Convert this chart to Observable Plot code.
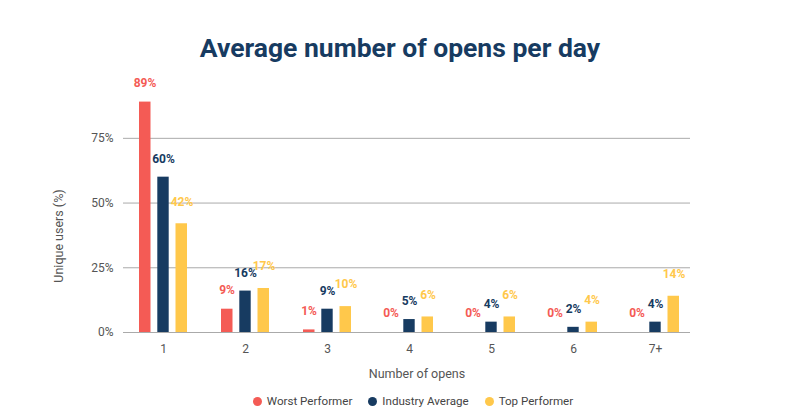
<!DOCTYPE html>
<html><head><meta charset="utf-8">
<script src="https://cdn.jsdelivr.net/npm/d3@7"></script>
<script src="https://cdn.jsdelivr.net/npm/@observablehq/plot@0.6"></script>
<style>
body{margin:0;background:#fff;font-family:Roboto,sans-serif;}
#wrap{width:800px;height:418px;overflow:hidden;}
#title{height:35px;padding-top:35px;line-height:26px;text-align:center;font-size:26.5px;font-weight:700;color:#173b61;}
#chart{height:318px;}
#legend{height:26px;display:flex;justify-content:center;align-items:center;font-size:11.6px;color:#444;line-height:22px;padding-left:26px;}
.item{display:flex;align-items:center;margin:0 8px;}
.dot{width:9px;height:9px;border-radius:50%;margin-right:5px;}
</style></head>
<body><div id="wrap">
<div id="title">Average number of opens per day</div>
<div id="chart"></div>
<div id="legend"></div>
</div>
<script>
const categories = ["1","2","3","4","5","6","7+"];
const worstPerformer = [89, 9, 1, 0, 0, 0, 0];
const industryAverage = [60, 16, 9, 5, 4, 2, 4];
const topPerformer = [42, 17, 10, 6, 6, 4, 14];
const yTicks = [0, 25, 50, 75];
const seriesNames = ["Worst Performer", "Industry Average", "Top Performer"];
const seriesColors = ["#f45b55", "#173b61", "#ffc84b"];

const seriesValues = [worstPerformer, industryAverage, topPerformer];
const rows = seriesValues.map(vals => categories.map((c, i) => ({cat: c, value: vals[i]})));
const insets = [[17, 53.5], [35.3, 35.3], [53.5, 17]];
const dxs = [-18.5, 0, 18.5];
const dys = [-19, -18, -22];

const plot = Plot.plot({
  width: 800,
  height: 318,
  marginLeft: 121,
  marginRight: 104,
  marginTop: 29,
  marginBottom: 56,
  style: {fontFamily: "Roboto, sans-serif", fontSize: "12px", color: "#555", background: "#fff"},
  x: {domain: categories, padding: 0, tickSize: 0, tickPadding: 12, label: null},
  y: {domain: [0, 90], ticks: yTicks, tickFormat: d => d + "%", tickSize: 0, tickPadding: 8, label: null},
  marks: [
    Plot.ruleY(yTicks, {stroke: "#aaaaaa", strokeWidth: 1, insetLeft: 2, insetRight: 6}),
    ...rows.map((r, k) => Plot.barY(r, {x: "cat", y: "value", fill: seriesColors[k], insetLeft: insets[k][0], insetRight: insets[k][1]})),
    ...rows.map((r, k) => Plot.text(r, {x: "cat", y: "value", text: d => d.value + "%", fill: seriesColors[k], dx: dxs[k], dy: dys[k], fontWeight: 700, fontSize: 12}))
  ]
});
const svg = d3.select(plot);
svg.append("text").attr("x", 417).attr("y", 307.5).attr("text-anchor", "middle")
  .attr("fill", "#555").style("font-size", "12.5px").text("Number of opens");
svg.append("text").attr("transform", "translate(62.5,166) rotate(-90)").attr("text-anchor", "middle")
  .attr("fill", "#555").style("font-size", "12.5px").text("Unique users (%)");
document.getElementById("chart").appendChild(plot);

const legend = d3.select("#legend");
seriesNames.forEach((n, k) => {
  const it = legend.append("div").attr("class", "item");
  it.append("div").attr("class", "dot").style("background", seriesColors[k]);
  it.append("span").text(n);
});
</script>
</body></html>
